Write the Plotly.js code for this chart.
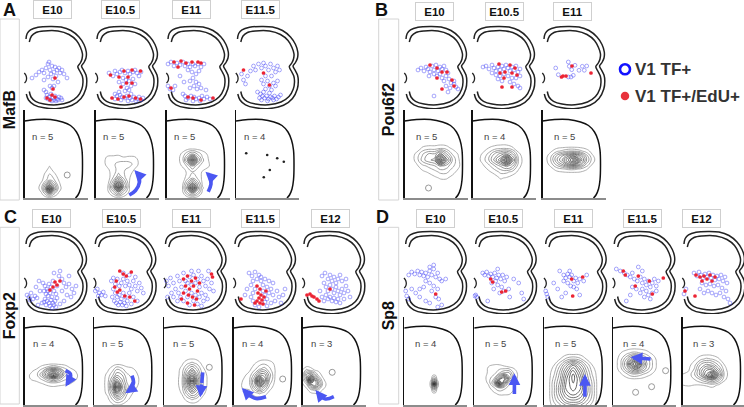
<!DOCTYPE html>
<html><head><meta charset="utf-8">
<script src="https://cdn.plot.ly/plotly-3.0.1.min.js"></script>
<style>html,body{margin:0;padding:0;background:#fff;}#chart{width:744px;height:407px;}</style>
</head><body><div id="chart"></div>
<script>
// ================= DATA =================
const mafbStages = ['E10','E10.5','E11','E11.5'];
const pou6f2Stages = ['E10','E10.5','E11'];
const foxp2Stages = ['E10','E10.5','E11','E11.5','E12'];
const sp8Stages = ['E10','E10.5','E11','E11.5','E12'];
const mafbN = [5,5,5,4];
const pou6f2N = [5,4,5];
const foxp2N = [4,5,5,4,3];
const sp8N = [4,5,5,4,3];

// cell positions in the hemicord section (top row), one list per stage
const mafbBlue = [
 [[8,52],[12,49],[15,46],[18,44],[20,47],[22,42],[24,38],[25,36],[26,44],[28,40],[27,48],[30,46],[31,41],[33,44],[35,42],[36,47],[38,44],[40,48],[43,52],[29,53],[32,50],[24,51],[20,54],[34,56],[20,64],[22,66],[23,69],[25,71],[27,68],[29,72],[31,70],[33,73],[35,71],[37,72],[24,73],[26,74],[28,75],[30,74],[32,75],[34,74],[22,72],[38,74],[28,62],[30,60],[26,60]],
 [[14,47],[18,50],[20,45],[22,48],[25,46],[27,44],[30,47],[33,45],[35,48],[38,46],[40,44],[42,47],[44,50],[46,46],[28,52],[31,54],[34,55],[38,53],[40,58],[36,60],[32,62],[28,58],[24,56],[30,65],[34,64],[20,68],[22,70],[25,69],[27,71],[30,72],[32,70],[35,72],[37,74],[39,71],[42,73],[44,71],[46,74],[48,72],[26,74],[20,73],[33,75],[41,75],[36,68],[24,66]],
 [[2,38],[5,36],[8,40],[11,37],[14,39],[17,36],[19,40],[22,38],[24,41],[27,38],[29,40],[32,38],[35,41],[38,38],[22,44],[26,46],[30,48],[33,45],[27,52],[24,55],[30,56],[33,58],[28,60],[24,62],[31,63],[35,62],[2,60],[4,63],[7,64],[9,60],[17,68],[19,70],[22,72],[25,70],[28,71],[30,73],[33,72],[36,70],[38,73],[41,71],[44,73],[20,74],[27,75],[34,75],[40,64],[14,50],[18,56]],
 [[6,48],[8,54],[10,58],[12,50],[15,45],[18,40],[20,44],[23,38],[26,42],[28,37],[30,40],[33,44],[35,38],[38,42],[40,46],[42,40],[44,44],[36,50],[30,50],[26,54],[32,55],[28,58],[34,60],[38,57],[30,63],[36,64],[40,60],[42,55],[22,66],[25,68],[27,70],[29,72],[31,70],[33,73],[35,71],[37,72],[39,70],[41,73],[43,71],[45,69],[24,72],[26,74],[32,75],[38,74],[28,66],[34,67]]
];
const mafbRed = [
 [[31,52],[29,63],[28,69],[23,72],[31,71],[26,74]],
 [[15.5,49],[24,51],[29,45],[33,51],[37,44],[45.5,45],[31.5,57],[37,57],[26,61],[29,71],[34,70],[40.5,72],[45.5,73],[23,73],[17,72]],
 [[8,36],[15,35],[20,37],[26,36],[32,36],[35,37],[12,41],[5,62],[22,71],[27,72],[35,74],[47,72]],
 [[8,44],[28,47],[34,59]]
];
const pou6f2Blue = [
 [[14,44],[17,42],[20,45],[22,41],[24,43],[26,46],[28,40],[30,44],[32,39],[34,45],[36,41],[38,43],[40,40],[42,44],[44,47],[36,48],[33,50],[38,52],[40,55],[42,50],[45,53],[47,57],[50,58],[52,61],[54,63],[46,62],[42,60],[30,48],[25,50],[30,70],[44,66],[50,55]],
 [[11,41],[14,40],[17,43],[20,39],[22,42],[24,45],[26,41],[28,44],[30,40],[32,43],[34,39],[36,42],[38,45],[40,41],[42,44],[44,40],[46,46],[48,43],[20,47],[24,49],[28,50],[32,48],[36,50],[40,52],[44,52],[48,50],[30,55],[38,56],[42,58],[46,60],[48,62],[26,53]],
 [[13.7,42],[16.3,48.7],[26.3,36],[27.3,40.3],[29.7,43.7],[31.3,49.3],[33,39.3],[37,44.3],[40.3,40.3],[42.3,44.3],[44.7,40],[26.3,51],[29,51]]
];
const pou6f2Red = [
 [[26,39],[33,42],[38,46],[43,46],[33,52],[48,54],[50,60],[38,63]],
 [[27,38],[38,39],[43,42],[33,46],[28,47],[40,47],[45,49],[32,52],[30,61],[40,61]],
 [[30,40],[21,50],[24,50],[49,47],[19.5,51]]
];
const foxp2Blue = [
 [[3,64],[5,66],[7,62],[9,68],[11,65],[13,67],[6,69],[19,52],[21,55],[23,58],[20,60],[22,63],[24,65],[26,62],[28,66],[21,68],[23,70],[25,72],[27,69],[29,72],[31,70],[26,75],[28,77],[30,74],[24,60],[27,56],[30,60],[32,63],[33,67],[22,74],[32,76],[20,71],[25,53],[29,50],[33,55],[30,42],[35,45],[38,48],[40,52],[42,56],[45,53],[48,58],[50,62],[47,66],[43,64],[40,70],[36,73],[38,60],[15,50],[12,56],[16,60],[45,45],[52,55],[36,40],[18,72],[14,74]],
 [[2,60],[4,58],[6,62],[8,64],[10,61],[12,65],[5,65],[18,50],[20,47],[22,53],[24,48],[26,55],[28,52],[30,48],[32,55],[34,50],[20,58],[22,62],[24,66],[26,64],[28,68],[30,62],[32,66],[34,70],[36,62],[38,58],[21,70],[23,72],[25,74],[27,71],[29,74],[31,72],[33,75],[19,66],[36,54],[40,50],[42,55],[44,60],[46,52],[48,57],[50,62],[40,66],[44,70],[38,73],[36,44],[42,46],[30,42]],
 [[3,50],[5,55],[7,47],[10,52],[12,58],[8,62],[4,66],[14,45],[16,50],[18,56],[15,62],[17,66],[20,42],[22,50],[24,52],[26,46],[28,54],[30,44],[32,52],[34,48],[36,56],[38,45],[40,50],[42,55],[44,48],[46,58],[48,52],[50,60],[22,60],[24,66],[28,62],[30,70],[32,64],[36,66],[38,62],[40,70],[42,64],[44,68],[20,70],[26,74],[34,73],[38,75],[28,40],[35,40],[45,40],[14,70],[10,66]],
 [[16,42],[19,45],[22,41],[24,48],[20,50],[26,44],[28,50],[18,54],[22,58],[30,54],[32,48],[34,56],[20,62],[18,66],[30,60],[32,64],[34,68],[36,62],[20,70],[22,74],[32,71],[34,75],[26,76],[38,58],[40,64],[42,70],[44,60],[46,66],[48,72],[50,64],[38,72],[28,46],[14,58],[12,64],[36,50],[40,52],[52,58]],
 [[20,45],[23,42],[26,48],[28,44],[30,50],[32,46],[34,52],[36,48],[38,44],[40,50],[22,52],[24,56],[26,60],[28,54],[30,58],[32,62],[34,56],[36,60],[38,64],[40,58],[42,62],[24,64],[26,68],[28,66],[30,70],[32,67],[34,71],[36,68],[38,72],[44,55],[46,60],[48,66],[18,60],[20,66],[42,68],[44,48],[22,70]]
];
const foxp2Red = [
 [[31,51],[36,50],[26,59],[29,56],[33,54]],
 [[26.5,40],[30,43],[33,45],[38,41],[23,50],[21.5,56],[26.5,59],[24,61],[31.5,65],[36.5,66],[41.5,70]],
 [[20,48],[24,45],[28,50],[32,47],[22,55],[26,58],[30,55],[34,60],[20,62],[25,64],[29,66],[33,68],[24,72],[36,52],[18,68],[48,43],[49,46],[31,74]],
 [[24,55],[27,58],[25,62],[28,64],[26,67],[29,69],[24,70],[27,72],[30,73],[22,72],[31,66],[33,60],[8,68]],
 [[5,64],[8,63],[10,65],[12,66],[15,68],[17,70],[28,58]]
];
const sp8Blue = [
 [[5,44],[8,41],[11,43],[14,40],[16,44],[18,41],[20,45],[22,42],[24,46],[26,40],[28,44],[30,38],[32,46],[34,42],[26,36],[30,34],[36,48],[22,50],[26,52],[30,55],[34,58],[38,50],[42,48],[20,56],[16,58],[12,62],[2,60],[3,65],[5,68],[28,60],[32,66],[35,68],[22,70],[26,72],[38,74],[34,76],[16,66],[8,58]],
 [[9,42],[11,44],[13,41],[15,45],[17,43],[19,46],[21,42],[23,47],[25,44],[22,50],[18,52],[24,54],[27,48],[29,44],[31,50],[33,46],[28,56],[30,60],[26,62],[20,58],[35,58],[40,48],[45,52],[48,62],[50,68],[14,70],[2,64],[3,66],[1,65],[36,66],[24,38]],
 [[16,40],[20,44],[22,47],[24,43],[26,46],[28,44],[30,50],[32,47],[34,52],[24,52],[20,50],[27,55],[30,56],[33,58],[36,48],[40,50],[43,44],[10,52],[14,58],[2,60],[3,63],[4,66],[22,62],[18,66],[36,64],[26,40]],
 [[4,38],[8,40],[12,42],[15,44],[18,46],[20,42],[22,48],[25,50],[28,46],[30,52],[32,48],[34,54],[36,50],[38,56],[40,52],[42,48],[44,55],[30,58],[34,60],[36,64],[32,66],[28,62],[24,58],[20,56],[40,62],[44,60],[46,50],[26,36],[30,40],[18,64],[14,70],[38,68]],
 [[12,42],[15,45],[17,41],[19,44],[21,47],[23,43],[25,46],[27,42],[29,47],[31,44],[33,49],[35,45],[37,48],[39,44],[41,50],[43,46],[45,52],[20,52],[24,54],[28,53],[32,55],[36,54],[40,57],[26,60],[30,62],[34,64],[38,62],[42,66],[46,68],[48,72],[22,62],[18,58],[4,58],[2,63],[44,60]]
];
const sp8Red = [
 [[32,63]],
 [[17,48],[19,51],[28,61],[32,60]],
 [[28,48],[39,46],[29,65]],
 [[11,40],[13,44],[26,45],[37,50],[23,55],[40,63],[51,47]],
 [[14,44],[18,46],[22,45],[25,48],[28,44],[30,50],[20,50],[3,60],[13,65],[33,46]]
];

// density grids (bottom row): grid x, grid y, density values
const mafbGridX = [[12,17,21,25,29,34,39,44],[6,12,18,23,28,34,40,46],[10,16,21,26,31,36,42,47],null];
const mafbGridY = [[52,58,64,70,75,79,84,88],[42,48,54,60,66,72,77,82,88],[38,44,50,56,62,68,73,78,83,88],null];
const mafbZ = [
 [[0,0,0,0,0,0,0,0],[0,0,0,0.7,0,0,0,0],[0,0,0.7,1.3,0.8,0,0,0],[0,0.3,1,2,1.5,0.5,0,0],[0,0.8,3,6,3.5,0.8,0,0],[0,1,4,10,4.5,1,0,0],[0,0.3,1.5,3,1.5,0.3,0,0],[0,0,0,0,0,0,0,0]],
 [[0,0,0,0,0,0,0,0],[0,0.7,0.8,0.9,0.6,0.7,0.6,0],[0,0.8,1.2,1.5,1.8,1.6,0.9,0],[0,0.3,1,1.6,1.4,1,0.3,0],[0,0,1.2,2.5,1.5,0.6,0,0],[0,0,2.5,6,3,0.5,0,0],[0,0.3,4,10,4,0.5,0,0],[0,0.2,2,4,2,0.3,0,0],[0,0,0,0,0,0,0,0]],
 [[0,0,0,0,0,0,0,0],[0,0.7,2,3,2,1,0.3,0],[0,1,4,9,4,1.5,0.5,0],[0,0.6,1.5,3,1.5,1,0.6,0],[0,0,0.7,1.2,1,0.4,0,0],[0,0,1,2,1.2,0.3,0,0],[0,0.2,2.5,5,2.5,0.3,0,0],[0,0.5,3.5,9.5,3.5,0.6,0,0],[0,0.2,2,3.5,2,0.2,0,0],[0,0,0,0,0,0,0,0]],
 null
];
const pou6f2GridX = [[6,12,18,24,30,36,42,48,54,58],[4,10,16,22,28,34,40,46,52],[2,8,14,20,26,32,38,44,50,56]];
const pou6f2GridY = [[32,38,44,50,56,62,68,74],[32,38,44,50,56,62,68,74],[36,41,46,50,54,59,64]];
const pou6f2Z = [
 [[0,0,0,0,0,0,0,0,0,0],[0,0,0.6,0.8,0.8,1,0.8,0.3,0,0],[0,0.7,2,3,3,5,3,1.2,0.4,0],[0,0.8,2.5,3.5,4,9.5,5,2,0.6,0],[0,0.3,1,1.5,2,3,2.5,1.5,0.7,0],[0,0,0.3,0.6,1,1.5,1.5,0.8,0.2,0],[0,0,0,0,0.3,0.6,0.6,0.2,0,0],[0,0,0,0,0,0,0,0,0,0]],
 [[0,0,0,0,0,0,0,0,0],[0,0,0.5,0.8,1,1,0.6,0,0],[0,0.6,1.5,3,4,4.5,3,0.7,0],[0,0.8,2,4,6,10,5,1.2,0],[0,0.3,1,2,3,4,3,0.8,0],[0,0,0.3,0.8,1.5,1.5,1,0.3,0],[0,0,0,0,0.6,0.4,0,0,0],[0,0,0,0,0,0,0,0,0]],
 [[0,0,0,0,0,0,0,0,0,0],[0,0.3,1,1.5,2,2,1.5,0.8,0.2,0],[0,1,3,4.5,6,7,5,2.5,0.6,0],[0,1.2,3.5,5.5,8,10,6,3,0.8,0],[0,0.8,2.5,4,6,7,4.5,2,0.5,0],[0,0.2,0.8,1.2,1.5,1.5,1.2,0.6,0,0],[0,0,0,0,0,0,0,0,0,0]]
];
const foxp2GridX = [[0,6,12,18,24,29,34,40,46,52,58],[8,14,19,23,28,33,39,45,51],[12,18,23,28,33,38,44,50],[4,10,16,21,26,31,36,42,48],[0,4,8,12,16,20,25,30,35]];
const foxp2GridY = [[46,50,54,58,62,66,70,74],[46,52,58,64,70,76,82,88],[40,46,52,58,64,70,76,82,88],[40,46,52,58,64,70,76,82],[48,53,58,63,68,73,78]];
const foxp2Z = [
 [[0,0,0,0,0,0,0,0,0,0,0],[0,0,0.2,0.8,1.5,2,1.5,1,0.3,0,0],[0,0.3,0.8,2,5,7,5,2,1,0.4,0],[0,0.6,1,3,6,10,6,2.5,1.2,0.6,0],[0,0.5,0.8,1.5,3,4,3,1.5,1,0.5,0],[0,0,0.3,0.6,1,1.2,1,0.8,0.6,0,0],[0,0,0,0,0.3,0.4,0.3,0.2,0,0,0],[0,0,0,0,0,0,0,0,0,0,0]],
 [[0,0,0,0,0,0,0,0,0],[0,0.3,1,2,1.5,0.8,0.6,0,0],[0,0.8,2,3.5,3,1.5,1,0.4,0],[0,1,3.5,6,4,2,1.2,0.5,0],[0,1,4.5,10,5,2.5,1,0.3,0],[0,0.8,3,6,4,1.5,0.5,0,0],[0,0.3,1.5,2.5,2,0.8,0,0,0],[0,0,0.3,0.5,0.3,0,0,0,0]],
 [[0,0,0,0,0,0,0,0],[0,0.3,1,1.5,1,0.3,0,0],[0,0.8,2.5,4,2.5,0.8,0,0],[0,1,4,7,4,1.2,0.3,0],[0,1.2,5,10,5,1.5,0.3,0],[0,1,4,7,4.5,1.5,0.2,0],[0,0.6,2.5,4,3,1,0,0],[0,0.2,0.8,1.5,1,0.3,0,0],[0,0,0,0,0,0,0,0]],
 [[0,0,0,0,0,0,0,0,0],[0,0,0,0.4,0.8,1,0.8,0.3,0],[0,0,0.3,1,2,2.5,1.5,0.4,0],[0,0.3,0.8,2.5,5,5,2.5,0.3,0],[0,0.6,1.2,4,10,6,2,0.2,0],[0,0.7,0.8,3,5,3,1,0,0],[0,0,0.2,1,1.5,1,0.2,0,0],[0,0,0,0,0,0,0,0,0]],
 [[0,0,0,0,0,0,0,0,0],[0.5,1.5,1,0.5,0.3,0,0,0,0],[1,4,5,3,1,0.3,0,0,0],[0.8,3,10,6,3,0.8,0,0,0],[0.3,1,4,6,4,1.2,0.2,0,0],[0,0.2,1,1.5,1.2,0.5,0,0,0],[0,0,0,0,0,0,0,0,0]]
];
const sp8GridX = [[25,27,28.5,30,31.5,33,35],[8,14,20,25,30,35,40,46],[4,10,16,22,29,36,42,48,54],[2,8,14,19,24,29,34,40,46],[0,6,12,18,24,30,36,42,48]];
const sp8GridY = [[57,61,64.5,67,69.5,73,77],[44,50,56,61,66,71,76,81],[36,42,48,54,60,66,72,78,84,88],[30,36,42,47,52,57,62,68],[36,42,48,53,58,63,68,74]];
const sp8Z = [
 [[0,0,0,0,0,0,0],[0,0,1.5,2,1.5,0,0],[0,1,4,6,4,1,0],[0,1.5,6,10,6,1.5,0],[0,1,4,6,4,1,0],[0,0,1.5,2,1.5,0,0],[0,0,0,0,0,0,0]],
 [[0,0,0,0,0,0,0,0],[0,0.5,0.8,0.8,0.6,0.5,0.3,0],[0,0.6,1,2,3,3,1,0],[0,0.8,2,5,8,4,1,0],[0,0.6,3,10,5,1.5,0.6,0],[0,0.2,1.2,2,1.5,1,0.6,0],[0,0,0.4,0.8,0.8,0.7,0.2,0],[0,0,0,0,0,0,0,0]],
 [[0,0,0,0,0,0,0,0,0],[0,0,0.5,1.5,2,1.5,0.5,0,0],[0,0.5,2,4,6,4,2,0.5,0],[0,1,3,5.5,8,5.5,3,1,0],[0,1.5,3.5,6.5,9,6.5,3.5,1.5,0],[0,2,4,7,8.5,7,4,2,0],[0,2,4.5,7,8,7,4.5,2,0],[0,2,4,6,7,6,4,2,0],[0,1.5,3,4.5,5,4.5,3,1.5,0],[0,1,2,3,3.5,3,2,1,0]],
 [[0,0,0,0,0,0,0,0,0],[0,0.5,1,1.5,1.5,1.2,0.8,0.3,0],[0,1,3,5,6,4,2.5,1,0],[0,1.2,4,8,10,6,3,1.2,0],[0,1,3,5,6,4,2.5,1,0],[0,0.4,1.2,2,2,1.5,1,0.4,0],[0,0,0.2,0.4,0.4,0.3,0,0,0],[0,0,0,0,0,0,0,0,0]],
 [[0,0,0,0,0,0,0,0,0],[0,0,0.3,1,1.5,1.2,0.6,0,0],[0,0.2,1,3,4,3.5,2,0.5,0],[0,0.4,1.5,4,6,6,3.5,0.8,0],[0.6,0.8,2,4,7,10,5,1,0],[1,1,1.2,2,3,4,2.5,0.6,0],[0.5,0.6,0.5,0.5,0.6,0.8,0.4,0,0],[0,0,0,0,0,0,0,0,0]]
];
// isolated small contour rings and single cells (bottom row)
const mafbRings = [[[42.7,65]],[],[],[]];
const mafbDots = [[],[],[],[[10.2,43.3],[31.2,45],[41.2,48.3],[47.8,51.7],[33.8,60],[27.8,67.3]]];
const pou6f2Rings = [[[24,78]],[],[]];
const foxp2Rings = [[],[],[[45.3,50.3]],[[49.2,62]],[[29.7,55.3]]];
const sp8Rings = [[],[],[],[[52.8,53.7],[38.8,69.7],[22.8,75.3]],[]];
// migration arrows (bottom row), path from tail to head
const mafbArrows = [[],[[[33.8,85],[40,80.5],[44,72],[42.5,64],[38.8,60]]],[[[41.7,81.7],[44.5,74],[43.5,66],[39,61.7]]],[]];
const pou6f2Arrows = [[],[],[]];
const foxp2Arrows = [
 [[[41,53.7],[46,57],[45.5,62],[41,69.7]]],
 [[[38.2,58.7],[39.8,65.3],[37,72.5],[31.5,76.3]]],
 [[[38.7,55.3],[37.8,66],[36.3,80.3]]],
 [[[32.5,79.7],[22.5,81.5],[14.2,77],[8.2,71]]],
 [[[31.3,79.7],[23,82],[17,78],[13,73]]]
];
const sp8Arrows = [[],[[[40.2,77],[40.2,66],[40.2,56.3]]],[[[40.7,79.7],[40.7,68],[40.7,57]]],[[[37.8,42],[27,41.2],[17.8,40.3]]],[]];

// anatomical templates
const outerOutline = [[2,13],[3.2,7.5],[6.5,3.8],[14,1.2],[26,0.4],[37,1],[47,4.5],[55,11],[60,18.5],[62.3,26],[62,32],[60,36.5],[57.5,40],[59.5,44],[62,49],[62.8,55],[61.8,63],[57,72.5],[48,79.3],[34,82.5],[20,81.8],[10,78.8],[4.5,74],[2.3,68]];
const innerOutline = [[5.3,16],[7.5,10],[12,6.5],[20,5],[34,5],[45,8.5],[52.5,14.5],[56.5,21.5],[58.5,28],[58,33],[56.3,37],[53.8,40.5],[55.8,45],[58.3,50],[59,56],[57.8,63],[53.5,70.5],[45.5,76],[33,78.8],[20,78],[11.5,75.3],[7,71],[5.3,65.5]];
const canalNotch = [[0.3,47],[2,49.5],[2.6,52.5],[1.8,55.5],[0.5,57]];
const bottomOutline = [[0,11],[12,9.5],[26,9.5],[38,12],[46,15.5],[52,22],[55.5,30],[57.5,40],[58,55],[57.5,70],[56,79],[53.5,85],[51,88]];

// ================= LAYOUT CONFIG =================
const W = 744, H = 407;
const FONT = 'Liberation Sans, Arial, Helvetica, sans-serif';
const rows = [
 {label:'MafB', letter:'A', stages:mafbStages, n:mafbN, blue:mafbBlue, red:mafbRed, gx:mafbGridX, gy:mafbGridY, gz:mafbZ, rings:mafbRings, dots:mafbDots, arrows:mafbArrows,
  cols:[24,95,166,235.5], heads:[52.5,120.5,191,260.5], headY:10, topY:26, botY:110, box:[0,19,19.3,200], letterXY:[9,10], nX:18},
 {label:'Pou6f2', letter:'B', stages:pou6f2Stages, n:pou6f2N, blue:pou6f2Blue, red:pou6f2Red, gx:pou6f2GridX, gy:pou6f2GridY, gz:pou6f2Z, rings:pou6f2Rings, dots:[[],[],[]], arrows:pou6f2Arrows,
  cols:[404,472,542], heads:[434.5,504.5,572.8], headY:11.5, topY:26, botY:110, box:[378.7,19,398.7,200], letterXY:[381,10], nX:22},
 {label:'Foxp2', letter:'C', stages:foxp2Stages, n:foxp2N, blue:foxp2Blue, red:foxp2Red, gx:foxp2GridX, gy:foxp2GridY, gz:foxp2Z, rings:foxp2Rings, dots:[[],[],[],[],[]], arrows:foxp2Arrows,
  cols:[24,93.3,163.5,233,302], heads:[52,121.5,191,260.5,330], headY:218, topY:231, botY:317, box:[0,227.3,19.3,404], letterXY:[10,217], nX:19},
 {label:'Sp8', letter:'D', stages:sp8Stages, n:sp8N, blue:sp8Blue, red:sp8Red, gx:sp8GridX, gy:sp8GridY, gz:sp8Z, rings:sp8Rings, dots:[[],[],[],[],[]], arrows:sp8Arrows,
  cols:[403.7,473.7,543.7,612.3,682], heads:[435.3,503.7,573.7,642,701], headY:218, topY:231, botY:317, box:[378.7,227.3,398.7,404], letterXY:[382,217], nX:21}
];

const data = [];
const layout = {width:W, height:H, margin:{l:0,r:0,t:0,b:0,pad:0}, paper_bgcolor:'#fff', plot_bgcolor:'rgba(0,0,0,0)',
  showlegend:false, shapes:[], annotations:[], font:{family:FONT, color:'#222'}, hovermode:false};
let k = 0;
function addAxes(px0, px1, py0, py1, xr, yr, ax) {
  k++; const s = k === 1 ? '' : String(k);
  xr = xr.slice(); yr = yr.slice();
  const ux = (xr[1]-xr[0])/(px1-px0);
  if (px1 > W) { xr[1] -= (px1-W)*ux; px1 = W; }
  if (px0 < 0) { xr[0] += (0-px0)*ux; px0 = 0; }
  const base = {fixedrange:true, showgrid:false, zeroline:false, showticklabels:false, ticks:''};
  layout['xaxis'+s] = Object.assign({}, base, {domain:[px0/W, px1/W], range:xr, anchor:'y'+s}, ax ? ax.x : {visible:false});
  layout['yaxis'+s] = Object.assign({}, base, {domain:[1-py1/H, 1-py0/H], range:yr, anchor:'x'+s}, ax ? ax.y : {visible:false});
  return {x:'x'+s, y:'y'+s};
}
const xs = p => p.map(d => d[0]);
const ys = p => p.map(d => d[1]);
const lineTrace = (pts, a, color, width) => ({type:'scatter', mode:'lines', x:xs(pts), y:ys(pts), xaxis:a.x, yaxis:a.y,
  line:{color:color, width:width, shape:'spline', smoothing:1}, hoverinfo:'skip', showlegend:false});
const BLUE_ARROW = '#4b57f2';

rows.forEach(r => {
  layout.shapes.push({type:'rect', xref:'paper', yref:'paper', x0:r.box[0]/W, x1:r.box[2]/W, y0:1-r.box[3]/H, y1:1-r.box[1]/H,
    line:{color:'#d4d4d4', width:1}, fillcolor:'rgba(0,0,0,0)'});
  layout.annotations.push({xref:'paper', yref:'paper', x:(r.box[0]+r.box[2])/2/W, y:1-(r.box[1]+r.box[3])/2/H,
    text:'<b>'+r.label+'</b>', textangle:-90, showarrow:false, font:{size:16, color:'#111', family:FONT}, xanchor:'center', yanchor:'middle'});
  layout.annotations.push({xref:'paper', yref:'paper', x:r.letterXY[0]/W, y:1-r.letterXY[1]/H, text:'<b>'+r.letter+'</b>',
    showarrow:false, font:{size:18, color:'#111', family:FONT}, xanchor:'center', yanchor:'middle'});
  r.stages.forEach((st, i) => {
    const c = r.cols[i];
    layout.annotations.push({xref:'paper', yref:'paper', x:r.heads[i]/W, y:1-r.headY/H, text:'<b>'+st+'</b>', showarrow:false,
      width:35, height:15, borderpad:1, bordercolor:'#cfcfcf', borderwidth:1, bgcolor:'#fff', font:{size:11.5, color:'#111', family:FONT},
      xanchor:'center', yanchor:'middle'});
    // ---- top: section with cells ----
    const a = addAxes(c-1, c+65, r.topY-1, r.topY+83, [-1,65], [83,-1]);
    data.push(lineTrace(outerOutline, a, '#222', 1.5));
    data.push(lineTrace(innerOutline, a, '#222', 1.5));
    data.push(lineTrace(canalNotch, a, '#222', 1.3));
    data.push({type:'scatter', mode:'markers', x:xs(r.blue[i]), y:ys(r.blue[i]), xaxis:a.x, yaxis:a.y, hoverinfo:'skip', showlegend:false,
      marker:{symbol:'circle-open', size:3.8, color:'rgba(70,70,245,0.6)', line:{width:0.8}}});
    data.push({type:'scatter', mode:'markers', x:xs(r.red[i]), y:ys(r.red[i]), xaxis:a.x, yaxis:a.y, hoverinfo:'skip', showlegend:false,
      marker:{symbol:'circle', size:3.7, color:'#ec2434'}});
    // ---- bottom: density contours ----
    const b = addAxes(c+0.5, c+63.5, r.botY, r.botY+88, [0,63], [88,0], {
      x:{visible:true, showline:true, linecolor:'#8c8c8c', linewidth:2, mirror:false},
      y:{visible:true, showline:true, linecolor:'#111', linewidth:1.3, mirror:false}});
    if (r.gz[i]) {
      data.push({type:'contour', x:r.gx[i], y:r.gy[i], z:r.gz[i], xaxis:b.x, yaxis:b.y, autocontour:false,
        contours:{start:0.5, end:9.8, size:0.8, coloring:'lines'}, line:{width:0.8, smoothing:1.3},
        colorscale:[[0,'#9a9a9a'],[1,'#262626']], zmin:0, zmax:10, showscale:false, hoverinfo:'skip'});
    }
    data.push(lineTrace(bottomOutline, b, '#111', 1.5));
    if (r.rings[i].length) data.push({type:'scatter', mode:'markers', x:xs(r.rings[i]), y:ys(r.rings[i]), xaxis:b.x, yaxis:b.y,
      hoverinfo:'skip', showlegend:false, marker:{symbol:'circle-open', size:6, color:'#808080', line:{width:0.8}}});
    if (r.dots[i].length) data.push({type:'scatter', mode:'markers', x:xs(r.dots[i]), y:ys(r.dots[i]), xaxis:b.x, yaxis:b.y,
      hoverinfo:'skip', showlegend:false, marker:{symbol:'circle', size:2.6, color:'#222'}});
    r.arrows[i].forEach(p => {
      data.push(lineTrace(p.slice(0, p.length-1), b, BLUE_ARROW, 3.6));
      const h = p[p.length-1], t = p[p.length-2];
      layout.annotations.push({xref:b.x, yref:b.y, axref:b.x, ayref:b.y, x:h[0], y:h[1], ax:t[0], ay:t[1], text:'',
        showarrow:true, arrowhead:2, arrowsize:0.65, arrowwidth:3.6, arrowcolor:BLUE_ARROW, standoff:0, startstandoff:0});
    });
    layout.annotations.push({xref:b.x, yref:b.y, x:r.nX, y:26, text:'n = '+r.n[i], showarrow:false,
      font:{size:9.5, color:'#444', family:FONT}, xanchor:'center', yanchor:'middle'});
  });
});

// legend (drawn in its own small frame)
const lg = addAxes(600, 744, 50, 110, [600,744], [110,50]);
data.push({type:'scatter', mode:'markers', x:[625], y:[69.3], xaxis:lg.x, yaxis:lg.y, hoverinfo:'skip', showlegend:false,
  marker:{symbol:'circle-open', size:10, color:'#1212ff', line:{width:2.6}}});
data.push({type:'scatter', mode:'markers', x:[625], y:[96], xaxis:lg.x, yaxis:lg.y, hoverinfo:'skip', showlegend:false,
  marker:{symbol:'circle', size:8.5, color:'#e8323c'}});
layout.annotations.push({xref:lg.x, yref:lg.y, x:633, y:69.3, text:'<b>V1 TF+</b>', showarrow:false, xanchor:'left', yanchor:'middle',
  font:{size:17, color:'#333', family:FONT}});
layout.annotations.push({xref:lg.x, yref:lg.y, x:633, y:96, text:'<b>V1 TF+/EdU+</b>', showarrow:false, xanchor:'left', yanchor:'middle',
  font:{size:17, color:'#333', family:FONT}});

Plotly.newPlot('chart', data, layout, {staticPlot:true, displayModeBar:false});
</script>
</body></html>
